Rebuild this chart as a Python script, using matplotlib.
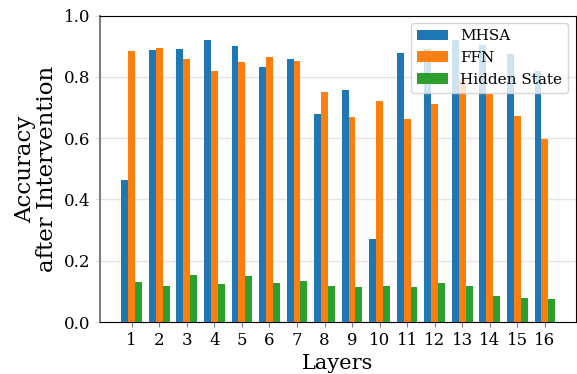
import matplotlib
matplotlib.use("Agg")
import matplotlib.pyplot as plt
import numpy as np

plt.rcParams['font.family'] = 'DejaVu Serif'

layers = [str(i) for i in range(1, 17)]
mhsa = [0.463, 0.887, 0.891, 0.920, 0.900, 0.832, 0.858, 0.679,
        0.757, 0.271, 0.878, 0.892, 0.921, 0.905, 0.874, 0.819]
ffn = [0.884, 0.894, 0.858, 0.819, 0.848, 0.865, 0.852, 0.750,
       0.669, 0.721, 0.662, 0.711, 0.793, 0.744, 0.672, 0.597]
hidden = [0.130, 0.117, 0.153, 0.124, 0.150, 0.127, 0.134, 0.117,
          0.114, 0.117, 0.114, 0.127, 0.117, 0.085, 0.078, 0.075]
series_names = ['MHSA', 'FFN', 'Hidden State']

fig = plt.figure(figsize=(5.77, 3.74), dpi=100)
ax = fig.add_axes([0.1733, 0.139, 0.825, 0.8195])

x = np.arange(len(layers))
width = 0.25
ax.bar(x - width, mhsa, width, color='#1f77b4', label=series_names[0], zorder=3)
ax.bar(x, ffn, width, color='#ff7f0e', label=series_names[1], zorder=3)
ax.bar(x + width, hidden, width, color='#2ca02c', label=series_names[2], zorder=3)

ax.set_xticks(x)
ax.set_xticklabels(layers, fontsize=12)
ax.set_xlim(-1.15, 16.13)
ax.set_ylim(0, 1.0)
ax.set_yticks([0.0, 0.2, 0.4, 0.6, 0.8, 1.0])
ax.tick_params(axis='y', labelsize=12, color='#dddddd')
ax.tick_params(axis='x', color='gray')
ax.yaxis.grid(True, color='#e5e5e5', linewidth=1, zorder=0)
ax.spines['left'].set_color('gray')
ax.spines['left'].set_linewidth(1.5)

ax.set_xlabel('Layers', fontsize=15)
ax.set_ylabel('Accuracy\nafter Intervention', fontsize=16.5, linespacing=1.0)
ax.legend(loc='upper right', fontsize=11)

fig.savefig('out.png', dpi=100)
